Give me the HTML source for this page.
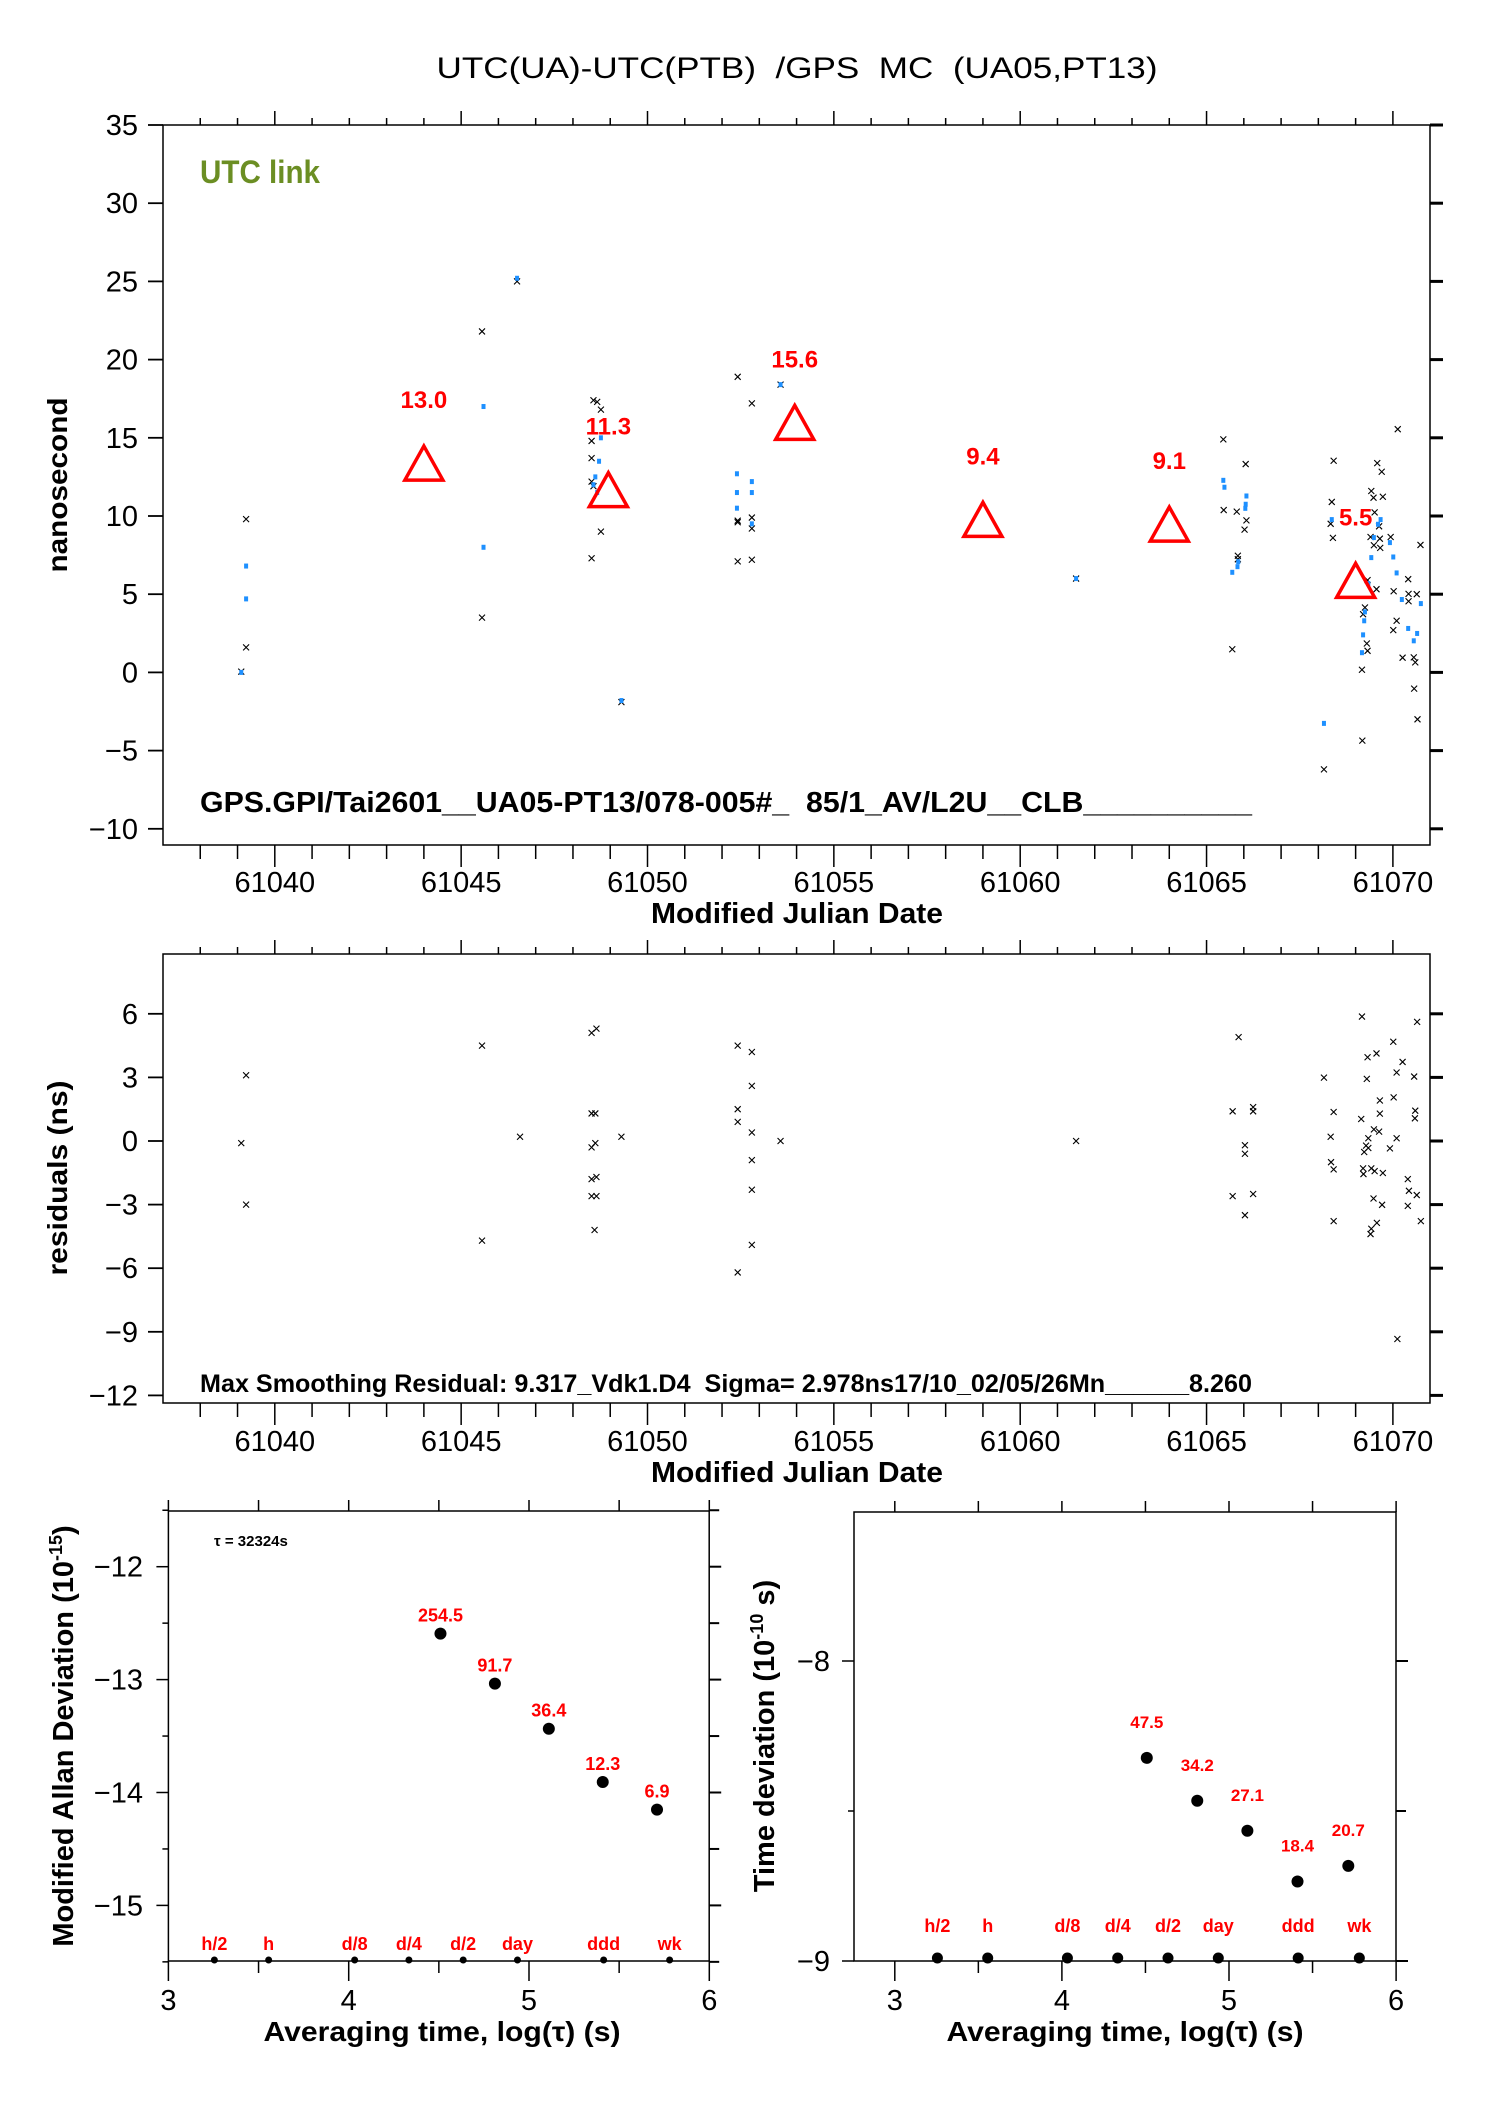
<!DOCTYPE html>
<html><head><meta charset="utf-8"><title>UTC(UA)-UTC(PTB) GPS MC</title>
<style>
html,body{margin:0;padding:0;background:#fff;}
svg{display:block;font-family:"Liberation Sans",Arial,sans-serif;}
</style></head>
<body>
<svg id="chart" xmlns="http://www.w3.org/2000/svg" width="1488" height="2105" viewBox="0 0 1488 2105">
<rect x="0" y="0" width="1488" height="2105" fill="#fff"/>
<text x="797" y="78" font-size="30" text-anchor="middle" style="white-space:pre" xml:space="preserve" textLength="721" lengthAdjust="spacingAndGlyphs">UTC(UA)-UTC(PTB)  /GPS  MC  (UA05,PT13)</text>

<g>
<rect x="163" y="125" width="1267" height="720" fill="none" stroke="#000" stroke-width="1.5"/>
<text x="200" y="183" font-size="32" font-weight="bold" fill="#6b8e23" textLength="120" lengthAdjust="spacingAndGlyphs">UTC link</text>
<text x="200" y="812" font-size="29" font-weight="bold" style="white-space:pre" xml:space="preserve" textLength="1052" lengthAdjust="spacingAndGlyphs">GPS.GPI/Tai2601__UA05-PT13/078-005#_  85/1_AV/L2U__CLB__________</text>
<text x="67" y="485" font-size="28" font-weight="bold" text-anchor="middle" transform="rotate(-90 67 485)" textLength="175" lengthAdjust="spacingAndGlyphs">nanosecond</text>
<text x="797" y="923" font-size="29" font-weight="bold" text-anchor="middle" textLength="292" lengthAdjust="spacingAndGlyphs">Modified Julian Date</text>
<g id="topTicks"></g><g id="topMarks"></g>
</g>

<g>
<rect x="163" y="954" width="1267" height="449" fill="none" stroke="#000" stroke-width="1.5"/>
<text x="200" y="1392" font-size="25" font-weight="bold" style="white-space:pre" xml:space="preserve" textLength="1052" lengthAdjust="spacingAndGlyphs">Max Smoothing Residual: 9.317_Vdk1.D4  Sigma= 2.978ns17/10_02/05/26Mn______8.260</text>
<text x="67" y="1178" font-size="28" font-weight="bold" text-anchor="middle" transform="rotate(-90 67 1178)" textLength="195" lengthAdjust="spacingAndGlyphs">residuals (ns)</text>
<text x="797" y="1482" font-size="29" font-weight="bold" text-anchor="middle" textLength="292" lengthAdjust="spacingAndGlyphs">Modified Julian Date</text>
<g id="resTicks"></g><g id="resMarks"></g>
</g>

<g>
<rect x="168.4" y="1511" width="540.8" height="450" fill="none" stroke="#000" stroke-width="1.5"/>
<text x="214" y="1546" font-size="15" font-weight="bold">τ = 32324s</text>
<text x="73" y="1736" font-size="29" font-weight="bold" text-anchor="middle" transform="rotate(-90 73 1736)">Modified Allan Deviation (10<tspan font-size="18" dy="-11">-15</tspan><tspan dy="11">)</tspan></text>
<text x="442" y="2041" font-size="28" font-weight="bold" text-anchor="middle" textLength="357" lengthAdjust="spacingAndGlyphs">Averaging time, log(τ) (s)</text>
<g id="adTicks"></g><g id="adMarks"></g>
</g>

<g>
<rect x="854" y="1512" width="542" height="449" fill="none" stroke="#000" stroke-width="1.5"/>
<text x="774" y="1736" font-size="29" font-weight="bold" text-anchor="middle" transform="rotate(-90 774 1736)">Time deviation (10<tspan font-size="18" dy="-11">-10</tspan><tspan dy="11"> s)</tspan></text>
<text x="1125" y="2041" font-size="28" font-weight="bold" text-anchor="middle" textLength="357" lengthAdjust="spacingAndGlyphs">Averaging time, log(τ) (s)</text>
<g id="tdTicks"></g><g id="tdMarks"></g>
</g>
</svg>
<script>
const mjdTicks = [61040, 61045, 61050, 61055, 61060, 61065, 61070];
const topYTicks = [35, 30, 25, 20, 15, 10, 5, 0, -5, -10];
const resYTicks = [6, 3, 0, -3, -6, -9, -12];
const topBlackMjd = [61039.23,61039.23,61039.1,61045.56,61045.56,61046.5,61048.55,61048.65,61048.75,61048.5,61048.5,61048.5,61048.55,61048.75,61048.5,61049.3,61052.42,61052.42,61052.42,61052.42,61052.8,61052.8,61052.8,61052.8,61053.57,61061.5,
61065.45,61066.05,61065.46,61065.81,61066.07,61066.02,61065.84,61065.84,61065.69,
61070.13,61068.41,61069.58,61069.7,61069.42,61069.48,61069.73,61068.36,61069.51,61068.33,61069.63,61068.39,61069.4,61069.65,61069.94,61069.49,61069.66,61070.74,61070.41,61069.32,61069.56,61070.02,61070.42,61070.64,61070.42,61069.25,61069.2,61070.1,61070.01,61069.3,61069.32,61070.26,61070.56,61070.6,61069.17,61070.57,61070.66,61069.18,61068.15];
const topBlackVal = [9.8,1.6,0.05,21.8,3.5,25.0,17.4,17.3,16.8,14.8,13.7,12.2,11.9,9.0,7.3,-1.9,18.9,9.7,9.6,7.1,17.2,9.9,9.2,7.2,18.4,6.0,
14.9,13.32,10.38,10.28,9.72,9.13,7.46,7.23,1.48,
15.55,13.53,13.38,12.83,11.6,11.17,11.23,10.9,10.23,9.5,9.34,8.6,8.66,8.55,8.66,8.13,7.96,8.15,5.96,5.9,5.32,5.19,5.02,5.0,4.55,4.15,3.72,3.3,2.7,1.85,1.38,0.94,0.96,0.64,0.17,-1.04,-3.0,-4.36,-6.2];
const topBlueMjd = [61039.23,61039.23,61039.1,61045.6,61045.6,61046.5,61048.75,61048.7,61048.6,61048.55,61048.65,61052.4,61052.4,61052.4,61052.8,61052.8,61052.8,61053.57,61049.3,61061.5,
61065.45,61065.48,61066.07,61066.05,61066.04,61065.85,61065.83,61065.69,
61068.36,61069.67,61069.6,61069.49,61069.42,61069.92,61070.01,61070.1,61069.34,61070.24,61070.75,61069.25,61069.23,61069.2,61069.17,61070.41,61070.65,61070.56,61068.15];
const topBlueVal = [6.8,4.7,0.0,17.0,8.0,25.2,15.0,13.5,12.5,12.0,11.5,12.7,11.5,10.5,12.2,11.5,9.5,18.4,-1.8,6.0,
12.28,11.84,11.28,10.75,10.49,7.08,6.76,6.4,
9.77,9.77,9.47,8.62,7.34,8.3,7.38,6.36,5.68,4.66,4.4,3.87,3.3,2.4,1.26,2.81,2.49,2.02,-3.26];
const triMjd = [61044, 61048.95, 61053.95, 61059, 61064, 61069];
const triVal = [13.0, 11.3, 15.6, 9.4, 9.1, 5.5];
const triLabels = ["13.0", "11.3", "15.6", "9.4", "9.1", "5.5"];
const resMjd = [61039.23,61039.1,61039.23,61045.56,61045.56,61046.58,61048.5,61048.63,61048.5,61048.6,61048.5,61048.6,61048.5,61048.63,61048.5,61048.63,61048.58,61049.3,61052.42,61052.42,61052.42,61052.42,61052.8,61052.8,61052.8,61052.8,61052.8,61052.8,61053.57,61061.5,61065.86,61065.7,61065.7,61066.03,61066.03,61066.03,61066.25,61066.25,61066.25,
61069.17,61070.65,61070.01,61069.56,61069.32,61070.26,61070.1,61068.15,61069.3,61070.57,61069.65,61070.02,61068.41,61069.65,61070.6,61070.59,61069.15,61069.49,61069.63,61069.34,61070.1,61068.33,61069.28,61069.34,61069.92,61069.23,61068.34,61068.41,61069.2,61069.21,61069.42,61069.51,61069.73,61070.4,61070.43,61070.64,61069.48,61069.71,61070.4,61068.41,61070.75,61069.57,61069.42,61069.4,61070.12];
const resVal = [3.1,-0.1,-3.0,4.5,-4.7,0.2,5.1,5.3,1.3,1.3,-0.3,-0.1,-1.8,-1.7,-2.6,-2.6,-4.2,0.2,4.5,1.5,0.9,-6.2,4.2,2.6,0.4,-0.9,-2.3,-4.9,0.0,0.0,4.9,1.4,-2.6,-0.2,-0.6,-3.5,1.6,1.4,-2.5,
5.87,5.62,4.68,4.13,3.95,3.73,3.23,2.99,2.93,3.04,1.91,2.06,1.37,1.29,1.43,1.07,1.04,0.55,0.44,0.13,0.13,0.2,-0.22,-0.33,-0.35,-0.52,-1.0,-1.34,-1.29,-1.56,-1.29,-1.42,-1.51,-1.8,-2.35,-2.55,-2.71,-3.01,-3.06,-3.78,-3.78,-3.86,-4.14,-4.39,-9.34];
const logTicks = [3, 4, 5, 6];
const adYTicks = [-12, -13, -14, -15];
const tdYTicks = [-8, -9];
const adLog = [4.509, 4.811, 5.11, 5.409, 5.71];
const adVal = [-12.593, -13.036, -13.435, -13.907, -14.152];
const adLabels = ["254.5", "91.7", "36.4", "12.3", "6.9"];
const tdLog = [4.508, 4.81, 5.11, 5.41, 5.714];
const tdVal = [-8.323, -8.466, -8.566, -8.735, -8.683];
const tdLabels = ["47.5", "34.2", "27.1", "18.4", "20.7"];
const tagNames = ["h/2", "h", "d/8", "d/4", "d/2", "day", "ddd", "wk"];
const tagLog = [3.255, 3.556, 4.033, 4.334, 4.635, 4.936, 5.414, 5.78];

const xM = m => 274.8 + (m - 61040) * 37.27;
const yTop = v => 672.4 - v * 15.64;
const yRes = v => 1141 - v * 21.2;
const xAd = l => 168.4 + (l - 3) * 180.3;
const yAd = v => 1566.7 + (-12 - v) * 112.9;
const xTd = l => 894.8 + (l - 3) * 167.1;
const yTd = v => 1661 + (-8 - v) * 300;

const NS = "http://www.w3.org/2000/svg";
function mk(parent, tag, attrs, txt) {
  const e = document.createElementNS(NS, tag);
  for (const k in attrs) e.setAttribute(k, attrs[k]);
  if (txt !== undefined) e.textContent = txt;
  document.getElementById(parent).appendChild(e);
  return e;
}
function line(parent, x1, y1, x2, y2, w) {
  return mk(parent, "line", {x1: x1, y1: y1, x2: x2, y2: y2, stroke: "#000", "stroke-width": w || 1.5});
}
function cross(parent, x, y) {
  return mk(parent, "path", {d: `M${x-3},${y-3}L${x+3},${y+3}M${x-3},${y+3}L${x+3},${y-3}`, stroke: "#000", "stroke-width": 1.1, fill: "none"});
}
const minus = s => String(s).replace("-", "\u2212");

function mjdPanel(g, top, bot, yTicks, yf) {
  for (let d = 61037; d <= 61071; d++) {
    const x = xM(d);
    if (x < 163 || x > 1430) continue;
    const major = d % 5 === 0;
    let t = line(g, x, top, x, top - (major ? 14 : 7), 1.5);
    
    
    t = line(g, x, bot, x, bot + (major ? 22 : 14), 1.5);
    
    
  }
  yTicks.forEach(v => {
    const y = yf(v);
    let t = line(g, 148, y, 163, y, 1.8);
    
    
    t = line(g, 1430, y, 1443, y, 3);
    
    
    const l = mk(g, "text", {x: 138, y: y + 10, "font-size": 29, "text-anchor": "end"}, minus(v));
    
    
  });
}
mjdPanel("topTicks", 125, 845, topYTicks, yTop);
mjdPanel("resTicks", 954, 1403, resYTicks, yRes);
mjdTicks.forEach(m => {
  let l = mk("topTicks", "text", {x: xM(m), y: 892, "font-size": 29, "text-anchor": "middle"}, m);
  
  
  l = mk("resTicks", "text", {x: xM(m), y: 1451, "font-size": 29, "text-anchor": "middle"}, m);
  
  
});

topBlackMjd.forEach((m, i) => {
  const c = cross("topMarks", xM(m), yTop(topBlackVal[i]));
  
  
});
topBlueMjd.forEach((m, i) => {
  const r = mk("topMarks", "rect", {x: xM(m) - 2, y: yTop(topBlueVal[i]) - 2.5, width: 4, height: 5, fill: "#1e90ff"});
  
  
});
triMjd.forEach((m, i) => {
  const x = xM(m), y = yTop(triVal[i]);
  const t = mk("topMarks", "path", {d: `M${x},${y-23}L${x+19},${y+11}L${x-19},${y+11}Z`, fill: "none", stroke: "#ff0000", "stroke-width": 3.5});
  
  
  const l = mk("topMarks", "text", {x: x, y: y - 61, "font-size": 24, "font-weight": "bold", fill: "#ff0000", "text-anchor": "middle"}, triLabels[i]);
  
  
});

resMjd.forEach((m, i) => {
  const c = cross("resMarks", xM(m), yRes(resVal[i]));
  
  
});

function logPanel(g, xf, yf, left, right, top, bot, yTicks, minorY, labelX) {
  for (let l = 3; l <= 6; l += 0.5) {
    const x = xf(l);
    if (x < left - 1 || x > right + 1) continue;
    const major = Number.isInteger(l);
    let t = line(g, x, top, x, top - 11, 1.5);
    
    
    t = line(g, x, bot, x, bot + (major ? 20 : 12), 1.5);
    
    
  }
  minorY.forEach(v => {
    const y = yf(v);
    let t = line(g, left - 6, y, left, y, 1.5);
    
    
    t = line(g, right, y, right + 10, y, 2);
    
    
  });
  yTicks.forEach(v => {
    const y = yf(v);
    let t = line(g, left - 12, y, left, y, 1.5);
    
    
    t = line(g, right, y, right + 12, y, 2);
    
    
    const l = mk(g, "text", {x: labelX, y: y + 10, "font-size": 29, "text-anchor": "end"}, minus(v));
    
    
  });
  logTicks.forEach(v => {
    const l = mk(g, "text", {x: xf(v), y: 2010, "font-size": 29, "text-anchor": "middle"}, v);
    
    
  });
}
logPanel("adTicks", xAd, yAd, 168.4, 709.2, 1511, 1961, adYTicks, [-11.5, -12.5, -13.5, -14.5, -15.5], 143);
logPanel("tdTicks", xTd, yTd, 854, 1396, 1512, 1961, tdYTicks, [-8.5], 830);

adLog.forEach((l, i) => {
  const x = xAd(l), y = yAd(adVal[i]);
  const c = mk("adMarks", "circle", {cx: x, cy: y, r: 6, fill: "#000"});
  
  
  const t = mk("adMarks", "text", {x: x, y: y - 12, "font-size": 18, "font-weight": "bold", fill: "#ff0000", "text-anchor": "middle"}, adLabels[i]);
  
  
});
tdLog.forEach((l, i) => {
  const x = xTd(l), y = yTd(tdVal[i]);
  const c = mk("tdMarks", "circle", {cx: x, cy: y, r: 6, fill: "#000"});
  
  
  const t = mk("tdMarks", "text", {x: x, y: y - 30, "font-size": 17, "font-weight": "bold", fill: "#ff0000", "text-anchor": "middle"}, tdLabels[i]);
  
  
});
tagLog.forEach((l, i) => {
  let t = mk("adMarks", "text", {x: xAd(l), y: 1950, "font-size": 18, "font-weight": "bold", fill: "#ff0000", "text-anchor": "middle"}, tagNames[i]);
  
  
  let c = mk("adMarks", "circle", {cx: xAd(l), cy: 1960, r: 3.5, fill: "#000"});
  
  
  t = mk("tdMarks", "text", {x: xTd(l), y: 1932, "font-size": 18, "font-weight": "bold", fill: "#ff0000", "text-anchor": "middle"}, tagNames[i]);
  
  
  c = mk("tdMarks", "circle", {cx: xTd(l), cy: 1958, r: 5.5, fill: "#000"});
  
  
});
</script>
</body></html>
